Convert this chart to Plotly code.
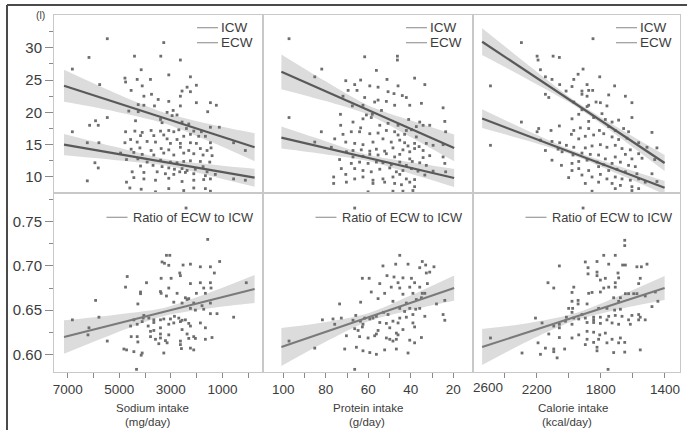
import plotly.graph_objects as go

# ---------------- data ----------------
panel_titles = [("Sodium intake", "(mg/day)"), ("Protein intake", "(g/day)"), ("Calorie intake", "(kcal/day)")]
top_legend = ["ICW", "ECW"]
bottom_legend = "Ratio of ECW to ICW"
y_unit_label = "(l)"

water_ticks = [10, 15, 20, 25, 30]
water_minor = [7.5, 12.5, 17.5, 22.5, 27.5, 32.5]
ratio_ticks = [0.60, 0.65, 0.70, 0.75]
ratio_minor = [0.625, 0.675, 0.725, 0.775]
sodium_ticks = [7000, 5000, 3000, 1000]
sodium_minor = [6000, 4000, 2000, 0]
protein_ticks = [100, 80, 60, 40, 20]
protein_minor = [90, 70, 50, 30]
calorie_ticks = [2600, 2200, 1800, 1400]
calorie_minor = [2400, 2000, 1600]

# body water (ICW and ECW measurements) vs intake
sodium_water_pts = [
    (5465,31.4),(3275,30.8),(6175,28.5),(4410,28.7),(3390,28.7),(2630,28.1),(6820,26.7),(4150,26.6),(3080,25.8),(2240,25.5),
    (4780,25.3),(4305,25.1),(3790,25.1),(4755,24.7),(5760,24.3),(4110,24.1),(2010,24.2),(2370,23.9),(2565,23.3),(4540,23.4),
    (4045,22.5),(3750,22.8),(2240,23.2),(2630,22.5),(3490,22.0),(3080,21.7),(1465,21.5),(2010,21.5),(4265,21.2),(4045,21.1),
    (3635,21.0),(2630,21.0),(1235,21.1),(3145,20.0),(2910,20.3),(1570,20.1),(4630,20.2),(4265,20.1),(5465,19.2),(5920,18.7),
    (6150,18.0),(5815,18.0),(4370,18.7),(3400,18.9),(2950,19.5),(2760,19.6),(3340,18.4),(2565,18.5),(2305,18.2),(1465,17.7),
    (1120,17.7),(4755,17.0),(4395,17.1),(4110,16.9),(3765,17.2),(3400,17.1),(3080,17.2),(2885,17.0),(2690,17.3),(2395,17.5),
    (2110,17.1),(1815,17.0),(6820,17.0),(6240,15.3),(5790,15.3),(4560,15.8),(4175,16.4),(3660,16.4),(3275,16.5),(3145,15.9),
    (2760,15.8),(2500,16.3),(2240,16.6),(1920,16.3),(1660,16.3),(4780,15.3),(4305,15.4),(3920,15.5),(3595,15.4),(3015,15.2),
    (2630,15.2),(2240,15.3),(2010,15.2),(1465,15.3),(565,15.3),(110,14.1),(4540,14.3),(4200,14.5),(3765,14.1),(3375,14.4),
    (3080,14.2),(2630,14.6),(2305,14.1),(1855,14.4),(1595,14.1),(1440,14.5),(4950,13.7),(4435,13.8),(4110,13.5),(3660,13.4),
    (3275,13.7),(2885,13.4),(2500,13.7),(2110,13.6),(1750,13.4),(1400,13.3),(5945,12.2),(5815,11.4),(4720,12.7),(4280,12.8),
    (3920,12.3),(3400,12.6),(3015,12.3),(2760,12.2),(2500,12.4),(2240,12.5),(1855,12.4),(1490,12.3),(4175,11.7),(3690,11.8),
    (3340,11.6),(3080,11.4),(2860,11.2),(2565,11.3),(2370,11.0),(2050,11.2),(1750,11.6),(1595,10.8),(1275,10.4),(4500,10.8),
    (4045,10.7),(3530,10.8),(3210,10.5),(2885,10.4),(2655,10.8),(2435,10.7),(2110,10.5),(1660,10.2),(565,9.7),(110,9.5),
    (6240,9.4),(4720,9.2),(4435,9.9),(4045,9.7),(3595,9.5),(3080,9.8),(2565,9.3),(2110,9.5),(1725,9.6),(1465,9.7),
    (4590,8.3),(4150,8.1),(3595,7.7),(3080,8.2),(2500,7.9),(2110,8.3),(1660,8.2),(1465,7.8),
]
protein_water_pts = [
    (97.3,31.4),(61.7,28.6),(46.3,28.7),(46.3,28.1),(81.9,26.7),(56.2,26.5),(85.2,25.5),(51.2,25.1),(63.6,25.0),(38.2,25.3),
    (70.6,24.9),(33.4,24.3),(66.4,24.3),(59.3,24.1),(55.4,23.9),(46.0,24.1),(69.5,23.4),(65.3,23.4),(50.7,23.2),(47.9,22.9),
    (44.0,22.6),(42.1,22.3),(71.9,22.5),(61.7,22.3),(55.4,21.9),(51.5,21.7),(47.6,21.1),(40.5,21.1),(67.5,21.0),(62.5,21.1),
    (57.0,21.6),(35.0,21.4),(24.8,20.7),(73.1,19.7),(60.9,19.6),(58.1,19.7),(53.8,20.3),(62.5,19.0),(58.6,19.2),(41.0,18.9),
    (35.8,18.5),(31.1,18.0),(24.0,18.6),(97.3,19.2),(73.0,18.0),(67.2,18.5),(63.6,17.6),(54.6,18.0),(50.7,18.3),(46.0,18.0),
    (42.1,17.2),(39.7,17.3),(37.4,17.8),(34.2,18.0),(82.1,17.0),(23.6,17.0),(75.8,15.9),(71.9,16.6),(68.0,17.0),(64.1,17.0),
    (59.3,16.7),(55.4,16.8),(51.5,17.2),(47.6,17.0),(46.0,16.5),(42.9,16.6),(37.4,16.2),(85.2,15.4),(70.6,15.4),(66.4,15.2),
    (62.5,15.0),(57.8,15.4),(53.1,15.9),(49.2,15.4),(45.2,15.7),(42.9,15.3),(41.3,14.8),(38.2,15.2),(36.1,14.7),(32.7,15.2),
    (29.5,14.9),(24.8,15.0),(77.4,14.6),(70.3,13.9),(67.2,14.1),(63.3,14.2),(59.3,14.0),(56.2,14.3),(52.3,14.0),(48.4,14.5),
    (43.7,14.2),(40.5,13.9),(38.2,14.4),(34.2,14.1),(73.5,12.7),(67.2,13.1),(62.5,13.2),(59.3,13.5),(55.4,13.4),(51.5,13.6),
    (47.6,13.1),(45.2,13.5),(40.5,12.8),(34.2,13.0),(31.1,13.3),(24.8,13.1),(68.0,12.1),(64.1,12.3),(60.1,12.1),(56.2,12.3),
    (53.1,12.2),(49.2,11.9),(45.2,12.3),(42.1,11.8),(39.3,12.4),(35.8,12.2),(32.7,11.8),(24.0,12.1),(72.7,11.3),(66.4,11.3),
    (62.5,11.0),(58.6,10.8),(54.6,11.2),(49.9,11.4),(46.8,10.8),(43.7,11.0),(39.7,11.3),(36.6,10.9),(29.5,10.9),(23.6,10.8),
    (76.3,10.0),(70.6,10.4),(66.4,9.7),(62.5,10.0),(57.8,9.5),(53.1,9.7),(48.4,10.0),(45.2,10.4),(42.1,9.7),(38.2,9.6),
    (33.4,10.3),(76.3,9.0),(70.3,9.2),(57.8,9.0),(52.3,9.2),(47.6,9.0),(44.4,8.8),(40.5,9.2),(38.2,8.5),(60.1,7.7),
    (48.4,7.8),(43.7,7.8),(39.0,7.9),
]
calorie_water_pts = [
    (2296,30.8),(1849,31.4),(2489,24.1),(2489,14.9),(2198,28.7),(2192,28.1),(2098,28.7),(2059,28.5),(2177,26.6),(2146,25.5),
    (1911,26.7),(2105,25.1),(1942,25.9),(1807,25.5),(1969,25.1),(2057,24.3),(1980,24.0),(1886,24.3),(2017,23.3),(2146,22.8),
    (2125,22.3),(1918,23.3),(1876,23.4),(1851,23.4),(1918,22.8),(1886,22.5),(1714,24.1),(1751,22.7),(1647,22.5),(1830,21.6),
    (1803,21.5),(1762,21.0),(1606,21.5),(1876,21.1),(1969,21.6),(1918,20.4),(1886,20.9),(1793,19.8),(1938,19.7),(1980,19.0),
    (1876,18.6),(1845,19.2),(1772,18.9),(1730,18.5),(1689,18.8),(1606,19.2),(2296,18.5),(2188,17.5),(2111,17.2),(2059,17.9),
    (1969,17.2),(1928,17.6),(1876,17.5),(1809,17.2),(1751,17.8),(1710,17.2),(1658,17.5),(1627,17.0),(1481,16.9),(2198,17.0),
    (2105,15.5),(2057,15.3),(2177,15.7),(1984,16.6),(1938,15.9),(1897,16.3),(1845,16.5),(1782,16.7),(1730,16.2),(1689,15.8),
    (1637,16.0),(1564,15.3),(1512,14.6),(1450,14.5),(2146,14.1),(2067,14.3),(2015,14.9),(1969,14.6),(1897,14.5),(1855,14.8),
    (1803,15.0),(1762,14.6),(1710,14.9),(1668,14.4),(1616,14.2),(1564,13.6),(2105,12.6),(2042,13.9),(1974,13.4),(1918,13.7),
    (1866,13.5),(1814,13.4),(1772,12.8),(1710,13.1),(1647,13.5),(1606,12.8),(1543,12.9),(1464,12.7),(2046,11.8),(1980,12.1),
    (1938,12.4),(1886,12.6),(1824,12.3),(1782,11.9),(1730,12.1),(1678,12.3),(1627,11.8),(1585,11.6),(1980,11.0),(1938,11.3),
    (1876,11.0),(1814,11.6),(1751,11.0),(1699,11.2),(1647,10.8),(1575,10.5),(1481,10.5),(2001,9.9),(1918,10.3),(1855,10.0),
    (1803,10.4),(1762,9.7),(1710,10.0),(1668,9.7),(1616,9.5),(1564,9.7),(1450,9.3),(1897,9.0),(1814,9.2),(1730,9.0),
    (1678,8.7),(1606,8.5),(1523,9.2),(1855,7.8),(1710,8.2),(1606,7.9),(1564,8.2),
]

# ratio of ECW to ICW vs intake
sodium_ratio_pts = [
    (2410,0.7655),(1570,0.730),(3170,0.712),(3040,0.712),(3340,0.7045),(3247,0.703),(3080,0.7007),(2525,0.701),(2240,0.702),(1855,0.699),
    (1465,0.699),(1106,0.705),(4692,0.688),(2654,0.692),(2630,0.689),(1312,0.692),(3944,0.681),(3376,0.686),(2989,0.686),(2240,0.680),
    (1855,0.681),(1465,0.681),(4757,0.676),(4176,0.6705),(4176,0.6686),(3402,0.671),(3376,0.669),(3080,0.675),(2757,0.669),(2435,0.664),
    (2370,0.662),(2305,0.663),(2009,0.669),(1725,0.675),(1660,0.669),(1441,0.675),(74,0.681),(5918,0.661),(4279,0.657),(3170,0.666),
    (2886,0.659),(2564,0.658),(2112,0.658),(1465,0.658),(1790,0.655),(5789,0.642),(6820,0.639),(4047,0.644),(4073,0.641),(4434,0.639),
    (3854,0.641),(3660,0.639),(3402,0.639),(3273,0.640),(3015,0.640),(2860,0.643),(2692,0.641),(2564,0.6385),(2435,0.639),(2240,0.652),
    (2047,0.650),(1725,0.651),(1465,0.646),(1209,0.646),(564,0.642),(2305,0.635),(1854,0.6355),(1660,0.630),(6176,0.630),(4563,0.632),
    (4305,0.634),(4112,0.637),(3879,0.632),(3660,0.636),(3402,0.630),(3080,0.634),(2886,0.6355),(2628,0.637),(6214,0.622),(3789,0.626),
    (3660,0.627),(3402,0.623),(3080,0.622),(2564,0.628),(2240,0.632),(2370,0.623),(2112,0.620),(5466,0.615),(4537,0.620),(4305,0.620),
    (3789,0.620),(3596,0.617),(3402,0.6185),(3209,0.6155),(2628,0.615),(2305,0.618),(2047,0.618),(1660,0.617),(1403,0.619),(4279,0.614),
    (3467,0.612),(3144,0.613),(2628,0.611),(4821,0.606),(4718,0.605),(4434,0.603),(4112,0.6015),(4150,0.599),(3273,0.6015),(2589,0.6065),
    (2240,0.607),(2112,0.605),(4331,0.583),
]
protein_ratio_pts = [
    (66.4,0.7655),(45.2,0.712),(34.6,0.705),(53.1,0.700),(47.1,0.702),(41.3,0.702),(33.0,0.701),(35.8,0.698),(29.1,0.699),(31.1,0.693),
    (32.7,0.692),(51.2,0.689),(47.9,0.6875),(62.8,0.686),(59.6,0.686),(43.7,0.6865),(39.7,0.686),(46.0,0.681),(38.2,0.681),(54.6,0.680),
    (32.2,0.680),(49.2,0.676),(45.2,0.675),(40.5,0.676),(35.8,0.676),(58.6,0.6705),(52.3,0.669),(43.7,0.668),(39.0,0.669),(34.6,0.669),
    (33.4,0.669),(73.5,0.657),(63.6,0.659),(55.4,0.663),(48.4,0.660),(42.1,0.658),(37.4,0.662),(35.0,0.664),(27.9,0.657),(24.0,0.661),
    (45.2,0.652),(40.5,0.652),(37.7,0.651),(35.8,0.652),(42.9,0.6485),(65.9,0.644),(61.7,0.641),(59.3,0.640),(57.8,0.641),(56.2,0.643),
    (52.8,0.6475),(50.7,0.645),(48.4,0.6375),(45.2,0.641),(42.1,0.642),(39.0,0.645),(33.4,0.643),(24.8,0.645),(81.6,0.639),(76.6,0.640),
    (75.8,0.634),(72.7,0.641),(67.2,0.6385),(63.7,0.6375),(62.5,0.634),(54.6,0.636),(51.5,0.635),(46.0,0.6355),(39.0,0.6355),(24.0,0.6385),
    (66.4,0.629),(64.8,0.627),(62.8,0.631),(55.4,0.627),(49.9,0.630),(46.8,0.624),(43.7,0.628),(38.2,0.631),(97.3,0.615),(85.2,0.607),
    (70.3,0.621),(64.1,0.620),(60.1,0.6185),(57.0,0.621),(56.2,0.623),(51.5,0.6185),(49.9,0.617),(48.4,0.615),(46.8,0.617),(46.0,0.622),
    (40.5,0.616),(38.2,0.613),(35.0,0.619),(71.1,0.606),(65.6,0.608),(62.5,0.604),(59.3,0.602),(56.2,0.600),(52.3,0.605),(46.8,0.606),
    (41.3,0.6015),(66.4,0.583),
]
calorie_ratio_pts = [
    (1911,0.7655),(1651,0.729),(1651,0.723),(1782,0.712),(1710,0.712),(1897,0.7045),(1824,0.705),(1751,0.702),(1664,0.701),(1647,0.701),
    (1512,0.702),(2059,0.700),(1880,0.698),(1880,0.691),(1824,0.693),(1824,0.689),(1575,0.699),(1547,0.699),(1693,0.692),(1803,0.684),
    (1772,0.686),(1689,0.6865),(2130,0.681),(2094,0.675),(1710,0.681),(1710,0.676),(1564,0.680),(1554,0.686),(1782,0.675),(1751,0.676),
    (1969,0.676),(1980,0.670),(1855,0.670),(1876,0.669),(1803,0.6705),(1647,0.6686),(1627,0.6686),(1595,0.6686),(1575,0.6686),(1523,0.666),
    (1720,0.664),(1678,0.664),(1980,0.660),(1942,0.661),(1942,0.657),(1886,0.657),(1689,0.660),(1460,0.6705),(1444,0.660),(1481,0.654),
    (2001,0.652),(1976,0.652),(1814,0.652),(1762,0.652),(1714,0.650),(1678,0.651),(1980,0.6475),(1918,0.645),(1845,0.642),(1803,0.642),
    (1751,0.643),(1710,0.644),(1668,0.643),(1606,0.644),(1564,0.645),(1554,0.642),(1523,0.639),(2015,0.642),(1969,0.641),(1938,0.640),
    (1897,0.641),(1845,0.639),(1762,0.639),(1627,0.639),(1564,0.639),(2208,0.641),(2167,0.6355),(2094,0.632),(2059,0.630),(2059,0.634),
    (2021,0.6375),(1980,0.634),(1886,0.636),(1845,0.636),(1803,0.635),(1730,0.6355),(1689,0.634),(1616,0.634),(2125,0.623),(2059,0.619),
    (1980,0.6185),(1938,0.622),(1886,0.626),(1845,0.625),(1807,0.622),(1814,0.617),(1772,0.624),(1730,0.617),(1678,0.6185),(1886,0.617),
    (1897,0.611),(1845,0.6135),(1824,0.608),(1762,0.613),(1689,0.613),(1651,0.6135),(1554,0.605),(2489,0.6185),(2292,0.6015),(2192,0.613),
    (2177,0.600),(2146,0.607),(2094,0.606),(2094,0.603),(2026,0.606),(2073,0.596),(1824,0.604),(1720,0.602),(1651,0.6025),(1755,0.583),
]

# fitted lines and 95% confidence bands, read at five x positions
sodium_fit_x = [7143, 5208, 3273, 1338, -249]
sodium_icw_fit = [24.11, 21.62, 19.15, 16.64, 14.60]
sodium_icw_lo = [21.63, 20.18, 18.32, 15.24, 12.43]
sodium_icw_hi = [26.59, 23.08, 19.98, 18.04, 16.77]
sodium_ecw_fit = [15.01, 13.67, 12.32, 10.98, 9.89]
sodium_ecw_lo = [13.36, 12.64, 11.80, 10.05, 8.49]
sodium_ecw_hi = [16.66, 14.70, 12.84, 11.91, 11.29]
sodium_ratio_fit = [0.6196, 0.6340, 0.6479, 0.6622, 0.6739]
sodium_ratio_lo = [0.6007, 0.6234, 0.6434, 0.6528, 0.6581]
sodium_ratio_hi = [0.6385, 0.6446, 0.6524, 0.6716, 0.6897]

protein_fit_x = [100.9, 80.5, 60.3, 39.9, 19.6]
protein_icw_fit = [26.28, 23.33, 20.39, 17.44, 14.49]
protein_icw_lo = [23.59, 21.78, 19.67, 16.15, 12.42]
protein_icw_hi = [28.97, 24.88, 21.11, 18.73, 16.56]
protein_ecw_fit = [16.10, 14.55, 12.97, 11.39, 9.84]
protein_ecw_lo = [14.39, 13.52, 12.50, 10.51, 8.44]
protein_ecw_hi = [17.81, 15.58, 13.44, 12.27, 11.24]
protein_ratio_fit = [0.6083, 0.6250, 0.6417, 0.6585, 0.6750]
protein_ratio_lo = [0.5868, 0.6137, 0.6372, 0.6502, 0.6607]
protein_ratio_hi = [0.6298, 0.6363, 0.6462, 0.6668, 0.6893]

calorie_fit_x = [2541, 2256, 1971, 1687, 1402]
calorie_icw_fit = [30.93, 26.24, 21.55, 16.87, 12.17]
calorie_icw_lo = [28.86, 25.10, 21.14, 16.20, 10.93]
calorie_icw_hi = [33.00, 27.38, 21.96, 17.54, 13.41]
calorie_ecw_fit = [19.04, 16.37, 13.69, 11.03, 8.34]
calorie_ecw_lo = [17.59, 15.59, 13.33, 10.41, 7.31]
calorie_ecw_hi = [20.49, 17.15, 14.05, 11.65, 9.37]
calorie_ratio_fit = [0.6083, 0.6250, 0.6417, 0.6585, 0.6750]
calorie_ratio_lo = [0.5879, 0.6148, 0.6376, 0.6510, 0.6614]
calorie_ratio_hi = [0.6287, 0.6352, 0.6458, 0.6660, 0.6886]

# ---------------- layout / styling ----------------
W, H = 687, 430
FONT = "Liberation Sans, Arial, sans-serif"
def px(x): return x / W
def py(y): return 1 - y / H

PANEL_X = [(54, 263), (263, 473), (473, 680)]
PANEL_Y = [(15, 193), (193, 372)]
X_RANGES = [[7532, -575], [109.55, 10.73], [2598, 1306]]
Y_RANGES = [[7.52, 35.07], [0.58, 0.7825]]

BAND = "#dcdcdc"
DOT = "#6e6e6e"
LINE_TOP = "#595959"
LINE_BOT = "#7a7a7a"
FRAME = "#c8c8c8"
TXT = "#3c3c3c"

fig = go.Figure()

columns = [
    dict(water=sodium_water_pts, ratio=sodium_ratio_pts, fx=sodium_fit_x,
         icw=(sodium_icw_fit, sodium_icw_lo, sodium_icw_hi), ecw=(sodium_ecw_fit, sodium_ecw_lo, sodium_ecw_hi),
         rat=(sodium_ratio_fit, sodium_ratio_lo, sodium_ratio_hi), ticks=sodium_ticks, minor=sodium_minor),
    dict(water=protein_water_pts, ratio=protein_ratio_pts, fx=protein_fit_x,
         icw=(protein_icw_fit, protein_icw_lo, protein_icw_hi), ecw=(protein_ecw_fit, protein_ecw_lo, protein_ecw_hi),
         rat=(protein_ratio_fit, protein_ratio_lo, protein_ratio_hi), ticks=protein_ticks, minor=protein_minor),
    dict(water=calorie_water_pts, ratio=calorie_ratio_pts, fx=calorie_fit_x,
         icw=(calorie_icw_fit, calorie_icw_lo, calorie_icw_hi), ecw=(calorie_ecw_fit, calorie_ecw_lo, calorie_ecw_hi),
         rat=(calorie_ratio_fit, calorie_ratio_lo, calorie_ratio_hi), ticks=calorie_ticks[1:], minor=[calorie_ticks[0]] + calorie_minor),
]

def add_band(fx, lo, hi, xa, ya):
    fig.add_trace(go.Scatter(x=fx, y=lo, mode="lines", line=dict(width=0, shape="spline", smoothing=0.8),
                             hoverinfo="skip", xaxis=xa, yaxis=ya, showlegend=False))
    fig.add_trace(go.Scatter(x=fx, y=hi, mode="lines", fill="tonexty", fillcolor=BAND,
                             line=dict(width=0, shape="spline", smoothing=0.8),
                             hoverinfo="skip", xaxis=xa, yaxis=ya, showlegend=False))

def add_fit(fx, fit, xa, ya, color, width):
    fig.add_trace(go.Scatter(x=fx, y=fit, mode="lines", line=dict(color=color, width=width),
                             xaxis=xa, yaxis=ya, showlegend=False))

def add_points(pts, xa, ya):
    fig.add_trace(go.Scatter(x=[p[0] for p in pts], y=[p[1] for p in pts], mode="markers",
                             marker=dict(symbol="square", size=2.8, color=DOT, line=dict(width=0)),
                             xaxis=xa, yaxis=ya, showlegend=False))

layout = dict(width=W, height=H, margin=dict(l=0, r=0, t=0, b=0),
              paper_bgcolor="white", plot_bgcolor="white", showlegend=False,
              font=dict(family=FONT, color=TXT))

for r in range(2):
    for c in range(3):
        i = r * 3 + c + 1
        xa, ya = f"x{i}", f"y{i}"
        col = columns[c]
        if r == 0:
            add_band(col["fx"], col["icw"][1], col["icw"][2], xa, ya)
            add_band(col["fx"], col["ecw"][1], col["ecw"][2], xa, ya)
            add_points(col["water"], xa, ya)
            add_fit(col["fx"], col["icw"][0], xa, ya, LINE_TOP, 2.2)
            add_fit(col["fx"], col["ecw"][0], xa, ya, LINE_TOP, 2.2)
        else:
            add_band(col["fx"], col["rat"][1], col["rat"][2], xa, ya)
            add_points(col["ratio"], xa, ya)
            add_fit(col["fx"], col["rat"][0], xa, ya, LINE_BOT, 2.0)

        x0, x1 = PANEL_X[c]
        y0, y1 = PANEL_Y[r]
        xkey = "xaxis" if i == 1 else f"xaxis{i}"
        ykey = "yaxis" if i == 1 else f"yaxis{i}"
        xax = dict(domain=[px(x0), px(x1)], range=X_RANGES[c], anchor=ya,
                   showgrid=False, zeroline=False, showline=True, mirror=True,
                   linecolor=FRAME, linewidth=1)
        if r == 1:
            xax.update(tickvals=col["ticks"], ticktext=[str(t) for t in col["ticks"]],
                       ticks="outside", ticklen=5, tickcolor="#8a8a8a", tickwidth=1,
                       tickfont=dict(size=13.5, color=TXT, family=FONT),
                       minor=dict(tickvals=col["minor"], ticks="outside", ticklen=5, tickcolor="#8a8a8a", tickwidth=1))
        else:
            xax.update(showticklabels=False, ticks="")
        yax = dict(domain=[py(y1), py(y0)], range=Y_RANGES[r], anchor=xa,
                   showgrid=False, zeroline=False, showline=True, mirror=True,
                   linecolor=FRAME, linewidth=1)
        if c == 0:
            if r == 0:
                tv, mv, tt = water_ticks, water_minor, [str(t) for t in water_ticks]
            else:
                tv, mv, tt = ratio_ticks, ratio_minor, [f"{t:.2f}" for t in ratio_ticks]
            yax.update(tickvals=tv, ticktext=tt, ticks="outside", ticklen=8, tickcolor="#8a8a8a", tickwidth=1,
                       tickfont=dict(size=15, color=TXT, family=FONT),
                       minor=dict(tickvals=mv, ticks="outside", ticklen=4, tickcolor="#8a8a8a", tickwidth=1))
        else:
            yax.update(showticklabels=False, ticks="")
        layout[xkey] = xax
        layout[ykey] = yax

fig.update_layout(**layout)

shapes = []
annotations = []
LEG = "#9a9a9a"
for c in range(3):
    x0 = PANEL_X[c][0]
    for k, name in enumerate(top_legend):
        yy = 27.7 + k * 15
        shapes.append(dict(type="line", xref="paper", yref="paper", x0=px(x0 + 143), x1=px(x0 + 164),
                           y0=py(yy), y1=py(yy), line=dict(color=LEG, width=1.2)))
        annotations.append(dict(xref="paper", yref="paper", x=px(x0 + 165), y=py(yy), text=name,
                                showarrow=False, xanchor="left", yanchor="middle",
                                font=dict(size=13.5, color=TXT, family=FONT)))
    shapes.append(dict(type="line", xref="paper", yref="paper", x0=px(x0 + 52.5), x1=px(x0 + 73.5),
                       y0=py(217.3), y1=py(217.3), line=dict(color=LEG, width=1.2)))
    annotations.append(dict(xref="paper", yref="paper", x=px(x0 + 76.5), y=py(217.3), text=bottom_legend,
                            showarrow=False, xanchor="left", yanchor="middle",
                            font=dict(size=12.8, color=TXT, family=FONT)))

title_cx = [(152, 148), (368, 367), (573, 567)]
for c, (t1, t2) in enumerate(panel_titles):
    annotations.append(dict(xref="paper", yref="paper", x=px(title_cx[c][0]), y=py(407.5), text=t1,
                            showarrow=False, xanchor="center", yanchor="middle",
                            font=dict(size=11.5, color=TXT, family=FONT)))
    annotations.append(dict(xref="paper", yref="paper", x=px(title_cx[c][1]), y=py(421.5), text=t2,
                            showarrow=False, xanchor="center", yanchor="middle",
                            font=dict(size=11.5, color=TXT, family=FONT)))

# first calorie tick label sits to the right of its tick (as in the reference)
annotations.append(dict(xref="paper", yref="paper", x=px(488), y=py(387), text=str(calorie_ticks[0]),
                        showarrow=False, xanchor="center", yanchor="middle",
                        font=dict(size=13.5, color=TXT, family=FONT)))

annotations.append(dict(xref="paper", yref="paper", x=px(40), y=py(15), text=y_unit_label,
                        showarrow=False, xanchor="center", yanchor="middle",
                        font=dict(size=10.5, color=TXT, family=FONT)))

shapes.append(dict(type="line", xref="paper", yref="paper", x0=px(7), x1=1, y0=py(5), y1=py(5),
                   line=dict(color="#4a4a4a", width=2)))
shapes.append(dict(type="line", xref="paper", yref="paper", x0=px(7), x1=px(7), y0=py(5), y1=0,
                   line=dict(color="#4a4a4a", width=2)))

fig.update_layout(shapes=shapes, annotations=annotations)
fig.write_html("out.html", config={"displayModeBar": False},
               post_script="document.body.style.margin='0';document.body.style.overflow='hidden';")
